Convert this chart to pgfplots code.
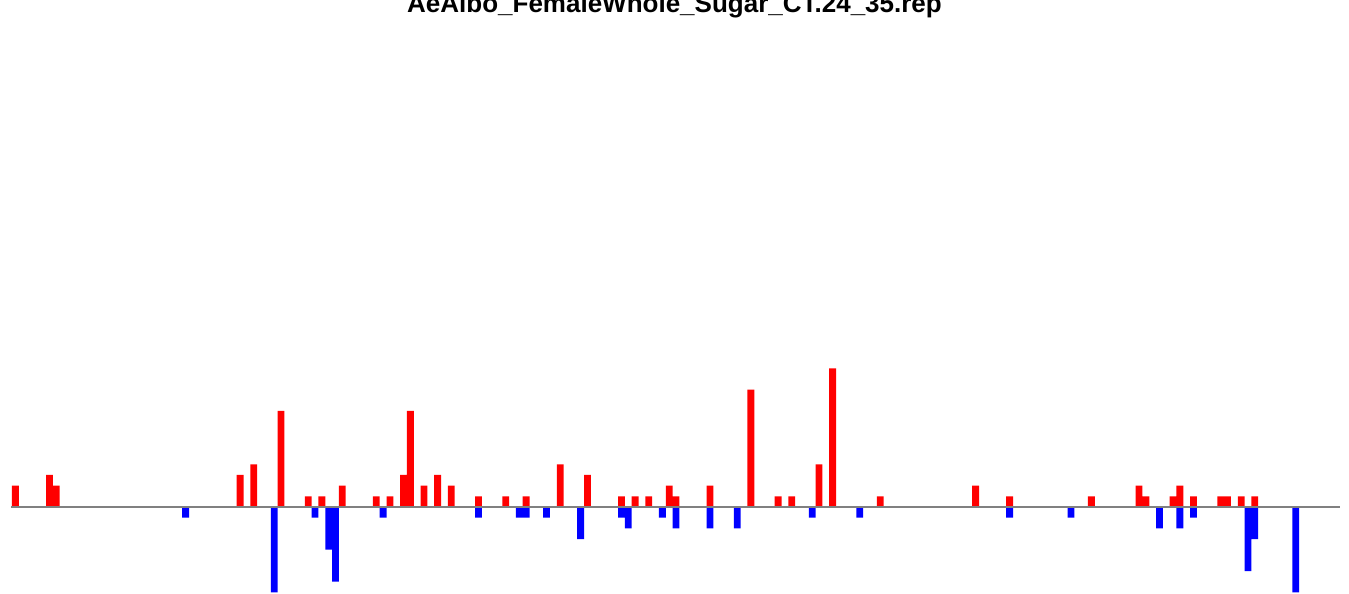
\documentclass[border=0pt]{standalone}
\usepackage{pgfplots}
\pgfplotsset{compat=1.18}
\usepackage{fontspec}
\setmainfont{Liberation Sans}
\begin{document}
\begin{tikzpicture}
\useasboundingbox (0,0) rectangle (1349pt,594pt);
\clip (0,0) rectangle (1349pt,594pt);
\begin{axis}[
  at={(0pt,0pt)}, anchor=south west,
  scale only axis, width=1349pt, height=594pt,
  hide axis,
  xmin=-2.262, xmax=195.83,
  ymin=-8.154, ymax=47.52,
  ybar, bar width=1, bar shift=0pt,
]
\addplot[draw=none, fill=red] coordinates {
(0,2) (5,3) (6,2) (33,3) (35,4) (39,9) (43,1) (45,1) (48,2) (53,1) (55,1)
(57,3) (58,9) (60,2) (62,3) (64,2) (68,1) (72,1) (75,1) (80,4) (84,3)
(89,1) (91,1) (93,1) (96,2) (97,1) (102,2) (108,11) (112,1) (114,1)
(118,4) (120,13) (127,1) (141,2) (146,1) (158,1) (165,2) (166,1) (170,1)
(171,2) (173,1) (177,1) (178,1) (180,1) (182,1)
};
\addplot[draw=none, fill=blue] coordinates {
(25,-1) (38,-8) (44,-1) (46,-4) (47,-7) (54,-1) (68,-1) (74,-1) (75,-1)
(78,-1) (83,-3) (89,-1) (90,-2) (95,-1) (97,-2) (102,-2) (106,-2)
(117,-1) (124,-1) (146,-1) (155,-1) (168,-2) (171,-2) (173,-1) (181,-6)
(182,-3) (188,-8)
};
\addplot[sharp plot, black!50, line width=1.1pt, forget plot] coordinates {(-0.647,0) (194.5,0)};
\end{axis}
\node[anchor=base, inner sep=0pt, font=\fontsize{26}{30}\selectfont\bfseries] at (674.5pt,581pt) {AeAlbo\_FemaleWhole\_Sugar\_CT.24\_35.rep};
\end{tikzpicture}
\end{document}
